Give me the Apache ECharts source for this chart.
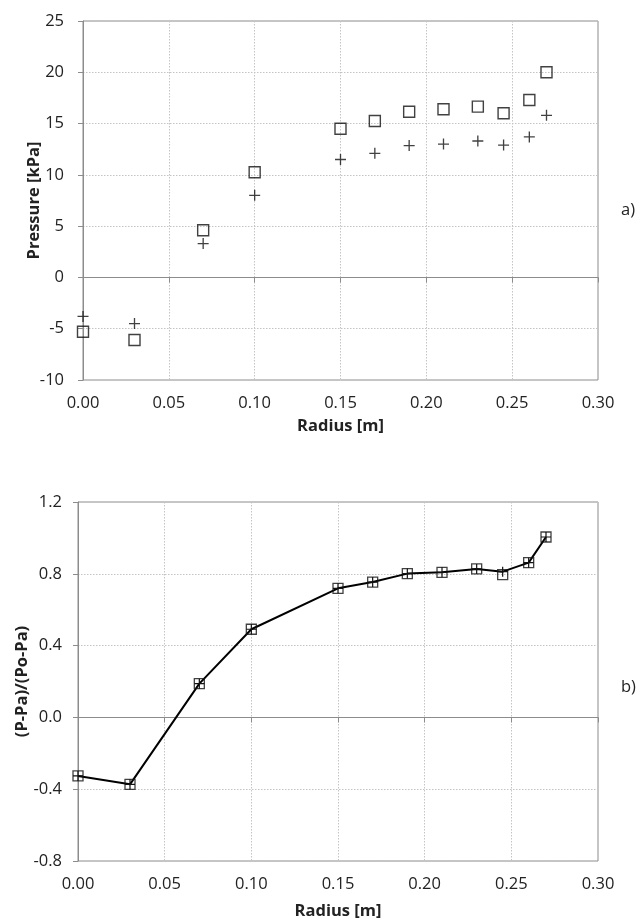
<!DOCTYPE html>
<html><head><meta charset="utf-8">
<script src="https://cdn.jsdelivr.net/npm/echarts@6/dist/echarts.min.js"></script>
<style>html,body{margin:0;padding:0;background:#fff}#c{width:639px;height:922px}</style>
</head><body><div id="c"></div>
<script>
// Radius values [m]
const radius = [0.00, 0.03, 0.07, 0.10, 0.15, 0.17, 0.19, 0.21, 0.23, 0.245, 0.26, 0.27];
// Chart a) Pressure [kPa]
const pressureSquares = [-5.3, -6.1, 4.6, 10.25, 14.5, 15.25, 16.15, 16.4, 16.65, 16.0, 17.3, 20.0];
const pressureCrosses = [-3.8, -4.5, 3.3, 8.0, 11.5, 12.1, 12.85, 13.0, 13.3, 12.9, 13.7, 15.8];
// Chart b) (P-Pa)/(Po-Pa)
const normSquares = [-0.326, -0.373, 0.188, 0.491, 0.719, 0.754, 0.801, 0.808, 0.827, 0.795, 0.862, 1.005];
const normCrosses = [-0.326, -0.373, 0.188, 0.491, 0.719, 0.754, 0.801, 0.808, 0.827, 0.812, 0.862, 1.005];
// Axis settings
const xTicks = {min: 0, max: 0.30, interval: 0.05};
const yTicksA = {min: -10, max: 25, interval: 5};
const yTicksB = {min: -0.8, max: 1.2, interval: 0.4};

const FONT = '"Open Sans", sans-serif';
const plusPath = 'path://M4.4,0H5.6V4.4H10V5.6H5.6V10H4.4V5.6H0V4.4H4.4Z';
const pair = (xs, ys) => xs.map((x, i) => [x, ys[i]]);

const axisCommon = {
  axisLine: {show: true, lineStyle: {color: '#8c8c8c', width: 1}},
  axisTick: {show: true, inside: false, length: 5, lineStyle: {color: '#8c8c8c'}},
  splitLine: {show: true, lineStyle: {color: '#c4c4c4', type: [1.5, 1.5], width: 1}},
  axisLabel: {color: '#222', fontSize: 16.5, fontFamily: FONT},
  nameTextStyle: {color: '#222', fontSize: 16.5, fontWeight: 'bold', fontFamily: FONT}
};
function xAxis(gi, gap) {
  return Object.assign({}, axisCommon, {
    type: 'value', gridIndex: gi, min: xTicks.min, max: xTicks.max, interval: xTicks.interval,
    name: 'Radius [m]', nameLocation: 'middle', nameGap: gap,
    axisLabel: Object.assign({}, axisCommon.axisLabel, {margin: 15, formatter: v => v.toFixed(2)})
  });
}
function yAxis(gi, t, name, dec, gap, margin) {
  return Object.assign({}, axisCommon, {
    type: 'value', gridIndex: gi, min: t.min, max: t.max, interval: t.interval,
    name: name, nameLocation: 'middle', nameGap: gap, nameMoveOverlap: false,
    axisLabel: Object.assign({}, axisCommon.axisLabel, {margin: margin, formatter: v => (Math.abs(v) < 1e-9 ? 0 : v).toFixed(dec)})
  });
}

const chart = echarts.init(document.getElementById('c'), null, {renderer: 'canvas'});
chart.setOption({
  animation: false,
  backgroundColor: '#fff',
  grid: [
    {left: 83, right: 41, top: 21, height: 359, show: true, borderColor: '#8c8c8c', borderWidth: 1, containLabel: false, outerBoundsMode: 'none'},
    {left: 78, right: 41, top: 502, height: 359, show: true, borderColor: '#8c8c8c', borderWidth: 1, containLabel: false, outerBoundsMode: 'none'}
  ],
  xAxis: [xAxis(0, 38), xAxis(1, 42)],
  yAxis: [
    yAxis(0, yTicksA, 'Pressure [kPa]', 0, 40, 19),
    yAxis(1, yTicksB, '(P-Pa)/(Po-Pa)', 1, 47, 16)
  ],
  graphic: [
    {type: 'text', left: 621, top: 202, style: {text: 'a)', fontSize: 16.5, fontFamily: FONT, fill: '#222'}},
    {type: 'text', left: 621, top: 679, style: {text: 'b)', fontSize: 16.5, fontFamily: FONT, fill: '#222'}}
  ],
  series: [
    {type: 'scatter', xAxisIndex: 0, yAxisIndex: 0, data: pair(radius, pressureSquares),
     symbol: 'rect', symbolSize: 11, itemStyle: {color: 'rgba(255,255,255,0)', borderColor: '#111', borderWidth: 1.4}},
    {type: 'scatter', xAxisIndex: 0, yAxisIndex: 0, data: pair(radius, pressureCrosses),
     symbol: plusPath, symbolSize: 11, itemStyle: {color: '#111'}},
    {type: 'line', xAxisIndex: 1, yAxisIndex: 1, data: pair(radius, normCrosses),
     symbol: plusPath, symbolSize: 10, showSymbol: true, lineStyle: {color: '#000', width: 2},
     itemStyle: {color: '#111'}, z: 2},
    {type: 'scatter', xAxisIndex: 1, yAxisIndex: 1, data: pair(radius, normSquares),
     symbol: 'rect', symbolSize: 10, itemStyle: {color: 'rgba(255,255,255,0)', borderColor: '#111', borderWidth: 1.3}, z: 3}
  ]
});
</script>
</body></html>
